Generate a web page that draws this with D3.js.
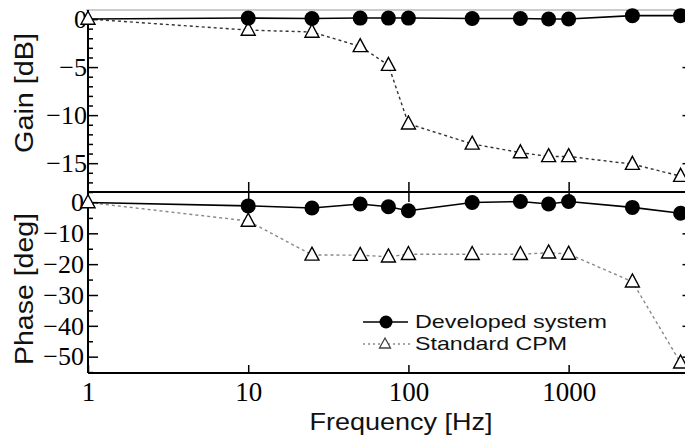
<!DOCTYPE html>
<html>
<head>
<meta charset="utf-8">
<script src="https://cdn.jsdelivr.net/npm/d3@7"></script>
<style>
  body { margin: 0; background: #fff; }
  svg { display: block; }
  .tick text { font-family: "Liberation Serif", "Times New Roman", serif; fill: #000; }
  .tick line { stroke: #000; stroke-width: 1.5; }
  .title { font-family: "Liberation Sans", Arial, sans-serif; fill: #111; }
</style>
</head>
<body>
<div class="vis1"></div>
<script>
// frequency points [Hz]
var freq = [1, 10, 25, 50, 75, 100, 250, 500, 750, 1000, 2500, 5000];
// gain [dB]
var devGain = [0, 0.1, 0.05, 0.1, 0.1, 0.1, 0.05, 0.05, 0, 0, 0.35, 0.35];
var stdGain = [0, -1.15, -1.35, -2.85, -4.8, -10.9, -13.0, -13.9, -14.3, -14.3, -15.1, -16.35];
// phase [deg]
var devPhase = [0, -1.1, -1.8, -0.5, -1.4, -2.7, 0, 0.3, -0.5, 0.3, -1.6, -3.5];
var stdPhase = [0, -6.0, -17.0, -17.1, -17.6, -16.8, -16.8, -16.8, -16.3, -16.7, -25.7, -52.0];
// tick values
var xTicks = [1, 10, 100, 1000];
var gainTicks = [0, -5, -10, -15];
var phaseTicks = [0, -10, -20, -30, -40, -50];
var seriesNames = ["Developed system", "Standard CPM"];

var width = 685, height = 439;
var left = 88, right = 688.5;
var gTop = 10, mid = 192, pBottom = 373;

var svg = d3.select(".vis1")
  .append("svg")
  .attr("width", width)
  .attr("height", height);

var x = d3.scaleLog().domain([1, 5600]).range([left, right]);
var yG = d3.scaleLinear().domain([-18, 0.94]).range([mid, gTop]);
var yP = d3.scaleLinear().domain([-55.3, 3.4]).range([pBottom, mid]);

// triangle marker path centred on 0,0
function tri(w, h) {
  return "M0," + (-h * 0.6) + "L" + (w / 2) + "," + (h * 0.4) + "L" + (-w / 2) + "," + (h * 0.4) + "Z";
}

// frame lines
svg.append("line").attr("x1", left - 2).attr("x2", width).attr("y1", gTop).attr("y2", gTop)
  .attr("stroke", "#bbb").attr("stroke-width", 1.5);
svg.append("line").attr("x1", left).attr("x2", width).attr("y1", mid).attr("y2", mid)
  .attr("stroke", "#000").attr("stroke-width", 2);
svg.append("line").attr("x1", left).attr("x2", width).attr("y1", pBottom).attr("y2", pBottom)
  .attr("stroke", "#000").attr("stroke-width", 2);
svg.append("line").attr("x1", left).attr("x2", left).attr("y1", gTop).attr("y2", pBottom)
  .attr("stroke", "#000").attr("stroke-width", 2);

function clean(g) { g.select(".domain").remove(); }

// left axes, major + minor ticks pointing inside
svg.append("g").attr("transform", "translate(" + left + ",0)")
  .call(d3.axisLeft(yG).tickValues(gainTicks).tickSizeInner(-10).tickSizeOuter(0).tickPadding(1)
    .tickFormat(d3.format("d")))
  .call(clean)
  .selectAll("text").style("font-size", "26px");
svg.append("g").attr("transform", "translate(" + left + ",0)")
  .call(d3.axisLeft(yG).tickValues(d3.range(-18, 0, 1).filter(function(v) { return v % 5 != 0; }))
    .tickSizeInner(-5).tickSizeOuter(0).tickFormat(""))
  .call(clean);
svg.append("g").attr("transform", "translate(" + left + ",0)")
  .call(d3.axisLeft(yP).tickValues(phaseTicks).tickSizeInner(-10).tickSizeOuter(0).tickPadding(4)
    .tickFormat(d3.format("d")))
  .call(clean)
  .selectAll("text").style("font-size", "26px");
svg.append("g").attr("transform", "translate(" + left + ",0)")
  .call(d3.axisLeft(yP).tickValues(d3.range(-55, 0, 10)).tickSizeInner(-5).tickSizeOuter(0).tickFormat(""))
  .call(clean);

// right side ticks
svg.append("g").attr("transform", "translate(" + right + ",0)")
  .call(d3.axisRight(yG).tickValues(gainTicks.slice(1)).tickSizeInner(-6).tickSizeOuter(0).tickFormat(""))
  .call(clean);
svg.append("g").attr("transform", "translate(" + right + ",0)")
  .call(d3.axisRight(yP).tickValues(phaseTicks.slice(1)).tickSizeInner(-6).tickSizeOuter(0).tickFormat(""))
  .call(clean);

// x ticks
svg.append("g").attr("transform", "translate(0," + pBottom + ")")
  .call(d3.axisBottom(x).tickValues(xTicks).tickSizeInner(-8).tickSizeOuter(0).tickPadding(9)
    .tickFormat(d3.format("d")))
  .call(clean)
  .selectAll("text").style("font-size", "27px");
svg.append("g").attr("transform", "translate(0," + mid + ")")
  .call(d3.axisBottom(x).tickValues(xTicks.slice(1)).tickSizeInner(-10).tickSizeOuter(0).tickFormat(""))
  .call(clean);
svg.append("g").attr("transform", "translate(0," + mid + ")")
  .call(d3.axisTop(x).tickValues(xTicks.slice(1)).tickSizeInner(-10).tickSizeOuter(0).tickFormat(""))
  .call(clean);

// axis titles
svg.append("text").attr("class", "title")
  .attr("transform", "translate(33,93) rotate(-90)")
  .attr("text-anchor", "middle").style("font-size", "26px")
  .attr("textLength", 120).attr("lengthAdjust", "spacingAndGlyphs")
  .text("Gain [dB]");
svg.append("text").attr("class", "title")
  .attr("transform", "translate(33,289) rotate(-90)")
  .attr("text-anchor", "middle").style("font-size", "26px")
  .attr("textLength", 152).attr("lengthAdjust", "spacingAndGlyphs")
  .text("Phase [deg]");
svg.append("text").attr("class", "title")
  .attr("x", 401).attr("y", 430)
  .attr("text-anchor", "middle").style("font-size", "24px")
  .attr("textLength", 183).attr("lengthAdjust", "spacingAndGlyphs")
  .text("Frequency [Hz]");

// draw one panel
function panel(devVals, stdVals, y, stdColor) {
  var dev = freq.map(function(f, i) { return {f: f, v: devVals[i]}; });
  var std = freq.map(function(f, i) { return {f: f, v: stdVals[i]}; });
  var line = d3.line().x(function(d) { return x(d.f); }).y(function(d) { return y(d.v); });

  svg.append("path").datum(std).attr("d", line)
    .attr("fill", "none").attr("stroke", stdColor).attr("stroke-width", 1.4)
    .attr("stroke-dasharray", "3,3");
  svg.append("path").datum(dev).attr("d", line)
    .attr("fill", "none").attr("stroke", "#000").attr("stroke-width", 1.6);

  svg.append("g").selectAll("path")
    .data(std).enter().append("path")
    .attr("transform", function(d) { return "translate(" + x(d.f) + "," + y(d.v) + ")"; })
    .attr("d", tri(14, 13))
    .attr("fill", "#fff").attr("stroke", "#000").attr("stroke-width", 1.4);
  svg.append("g").selectAll("circle")
    .data(dev.filter(function(d) { return d.f > 1; })).enter().append("circle")
    .attr("cx", function(d) { return x(d.f); })
    .attr("cy", function(d) { return y(d.v); })
    .attr("r", 7.5).attr("fill", "#000");
}
panel(devGain, stdGain, yG, "#333");
panel(devPhase, stdPhase, yP, "#888");

// legend
var leg = svg.append("g");
leg.append("line").attr("x1", 363).attr("x2", 408).attr("y1", 322).attr("y2", 322)
  .attr("stroke", "#000").attr("stroke-width", 1.6);
leg.append("circle").attr("cx", 386).attr("cy", 322).attr("r", 6.5).attr("fill", "#000");
leg.append("line").attr("x1", 363).attr("x2", 410).attr("y1", 344).attr("y2", 344)
  .attr("stroke", "#888").attr("stroke-width", 1.4).attr("stroke-dasharray", "2,3");
leg.append("path").attr("transform", "translate(385,344)").attr("d", tri(11, 10))
  .attr("fill", "#fff").attr("stroke", "#444").attr("stroke-width", 1.3);
leg.selectAll("text").data(seriesNames).enter().append("text")
  .attr("class", "title")
  .attr("x", 415).attr("y", function(d, i) { return 328 + i * 22; })
  .style("font-size", "19px")
  .attr("textLength", function(d, i) { return i == 0 ? 192 : 152; })
  .attr("lengthAdjust", "spacingAndGlyphs")
  .text(function(d) { return d; });
</script>
</body>
</html>
